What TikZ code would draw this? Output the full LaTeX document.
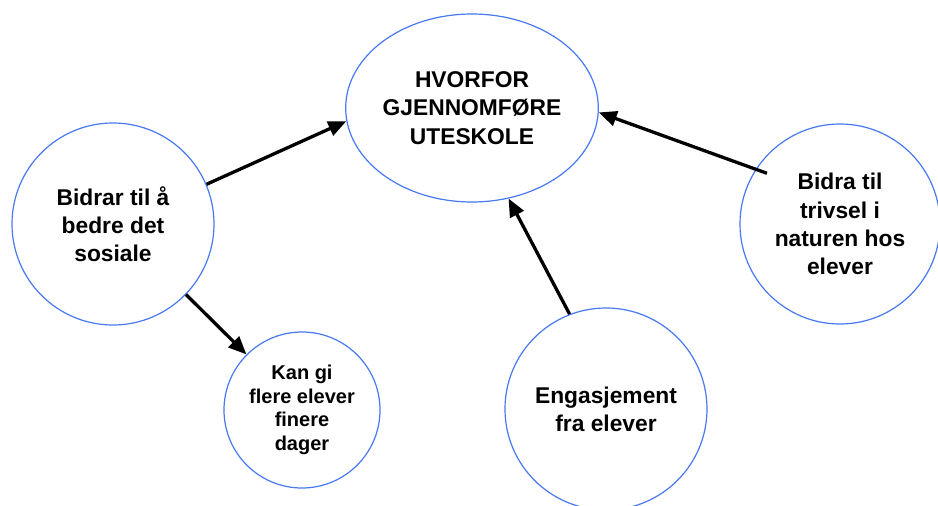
\documentclass[tikz,border=0pt]{standalone}
\usepackage{fontspec}
\setmainfont{Liberation Sans}
\usetikzlibrary{shapes.geometric,arrows.meta}
\definecolor{ringblue}{RGB}{72,120,242}
\begin{document}
\begin{tikzpicture}[x=1pt,y=-1pt,
  bubble/.style={circle,draw=ringblue,line width=1.2pt,inner sep=0pt,align=center,
    font=\fontsize{22.8}{28.2}\selectfont\bfseries},
  smallbubble/.style={bubble,font=\fontsize{20}{23.5}\selectfont\bfseries},
  topic/.style={ellipse,draw=ringblue,line width=1.2pt,inner sep=0pt,align=center,
    minimum width=250pt,minimum height=188pt,
    font=\fontsize{22.8}{28.2}\selectfont\bfseries},
  link/.style={line width=3.3pt,-{Triangle[length=18pt,width=15pt]}}]
  \fill[white] (0,0) rectangle (938,506);
  \useasboundingbox (0,0) rectangle (938,506);

  % central question
  \node[topic] (T) at (472,108) {HVORFOR\\GJENNOMFØRE\\UTESKOLE};

  % surrounding reasons
  \node[bubble,minimum size=202pt] (L) at (113,224) {Bidrar til å\\bedre det\\sosiale};
  \node[smallbubble,minimum size=156pt] (S) at (302,410) {Kan gi\\flere elever\\finere\\dager};
  \node[bubble,minimum size=202pt] (B) at (606,409) {Engasjement\\fra elever};
  \node[bubble,minimum size=200pt] (R) at (840,224) {Bidra til\\trivsel i\\naturen hos\\elever};

  % connectors
  \draw[link] (L.23) -- (T.186);
  \draw[link] (L.-44) -- (S.135);
  \draw[link] (B.111) -- (T.-68);
  \draw[link,shorten <=-12pt] (R.147) -- (T.-2);
\end{tikzpicture}
\end{document}
